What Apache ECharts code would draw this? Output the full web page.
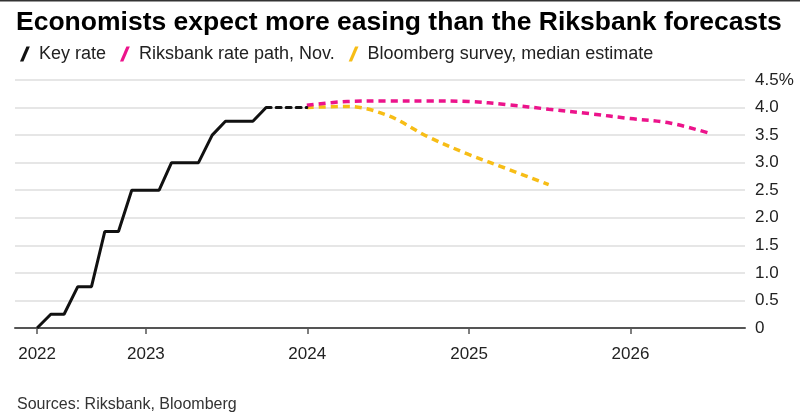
<!DOCTYPE html>
<html>
<head>
<meta charset="utf-8">
<script src="https://cdn.jsdelivr.net/npm/echarts@6/dist/echarts.min.js"></script>
<style>
html,body{margin:0;padding:0;background:#fff;}
#chart{width:800px;height:416px;}
</style>
</head>
<body>
<div id="chart"></div>
<script>
// ---- Data ----
var keyRateDates = ['2022-04-30','2022-05-31','2022-06-30','2022-07-31','2022-08-31','2022-09-30','2022-10-31','2022-11-30','2022-12-31','2023-01-31','2023-02-28','2023-03-31','2023-04-30','2023-05-31','2023-06-30','2023-07-31','2023-08-31','2023-09-30'];
var keyRateValues = [0,0.25,0.25,0.75,0.75,1.75,1.75,2.5,2.5,2.5,3.0,3.0,3.0,3.5,3.75,3.75,3.75,4.0];
var keyRateExtDates = ['2023-09-30','2023-12-31'];
var keyRateExtValues = [4.0,4.0];
var forecastDates = ['2023-12-31','2024-03-31','2024-06-30','2024-09-30','2024-12-31','2025-03-31','2025-06-30','2025-09-30','2025-12-31','2026-03-31','2026-06-30'];
var riksbankPath = [4.04,4.11,4.12,4.12,4.11,4.05,3.97,3.89,3.80,3.72,3.53];
var surveyMedian = [4.00,4.02,3.86,3.47,3.15,2.88,2.60];
var xTickDates = ['2022-04-30','2023-01-01','2024-01-01','2025-01-01','2026-01-01'];
var xRange = ['2022-03-11','2026-09-17'];
var yTicks = [0,0.5,1.0,1.5,2.0,2.5,3.0,3.5,4.0,4.5];
var seriesNames = ['Key rate','Riksbank rate path, Nov.','Bloomberg survey, median estimate'];
var titleText = 'Economists expect more easing than the Riksbank forecasts';
var sourceText = 'Sources: Riksbank, Bloomberg';

function ts(d){ return +echarts.time.parse(d); }
function zip(d, v){ var out=[]; for (var i=0;i<v.length;i++) out.push([ts(d[i]), v[i]]); return out; }

var FONT = '"Liberation Sans", Arial, sans-serif';
var BLACK = '#111111', PINK = '#ec138b', YELLOW = '#f7bd16';
var icon = 'path://M0,14 L3.2,14 L9.2,0 L6,0 Z';

var chart = echarts.init(document.getElementById('chart'), null, {renderer:'canvas'});
var xTickVals = xTickDates.map(ts);

chart.setOption({
  animation: false,
  backgroundColor: '#ffffff',
  textStyle: {fontFamily: FONT},
  graphic: [{type:'rect', left:0, top:0, shape:{width:800, height:1.5}, style:{fill:'#333'}}],
  title: [
    {text: titleText, left: 11, top: 4,
     textStyle: {fontFamily: FONT, fontSize: 26.5, fontWeight: 'bold', color: '#000'}},
    {text: sourceText, left: 12, top: 392,
     textStyle: {fontFamily: FONT, fontSize: 16, fontWeight: 'normal', color: '#333'}}
  ],
  legend: {
    left: 15, top: 40, itemWidth: 18, itemHeight: 15, itemGap: 14,
    icon: icon,
    data: seriesNames.map(function(n){ return {name:n, icon:icon}; }),
    textStyle: {fontFamily: FONT, fontSize: 18, color: '#222'}
  },
  grid: {left: 15, right: 55, top: 80, bottom: 88, containLabel: false},
  xAxis: {
    type: 'value',
    min: ts(xRange[0]), max: ts(xRange[1]),
    axisLine: {show: true, lineStyle: {color: '#555', width: 2}},
    axisTick: {show: true, length: 6, customValues: xTickVals, lineStyle: {color: '#555', width: 1.5}},
    axisLabel: {customValues: xTickVals, margin: 18, fontFamily: FONT, fontSize: 17, color: '#222',
      formatter: function(v){ return String(new Date(v).getFullYear()); }},
    splitLine: {show: false}
  },
  yAxis: {
    type: 'value', position: 'right', min: 0, max: 4.5, interval: 0.5,
    axisLine: {show: false}, axisTick: {show: false},
    splitLine: {show: true, lineStyle: {color: '#dedede', width: 1.5}},
    axisLabel: {margin: 10, fontFamily: FONT, fontSize: 17, color: '#222',
      formatter: function(v){ if (v === 0) return '0'; var s = v.toFixed(1); return v === yTicks[yTicks.length-1] ? s + '%' : s; }}
  },
  series: [
    {name: seriesNames[2], type: 'line', data: zip(forecastDates, surveyMedian), showSymbol: false, smooth: 0.35,
     itemStyle: {color: YELLOW}, lineStyle: {color: YELLOW, width: 3.5, type: [7,5]}, z: 2},
    {name: seriesNames[1], type: 'line', data: zip(forecastDates, riksbankPath), showSymbol: false, smooth: 0.35,
     itemStyle: {color: PINK}, lineStyle: {color: PINK, width: 3.5, type: [7,5]}, z: 3},
    {name: seriesNames[0], type: 'line', data: zip(keyRateDates, keyRateValues), showSymbol: false,
     itemStyle: {color: BLACK}, lineStyle: {color: BLACK, width: 3}, z: 4},
    {name: seriesNames[0], type: 'line', data: zip(keyRateExtDates, keyRateExtValues), showSymbol: false,
     itemStyle: {color: BLACK}, lineStyle: {color: BLACK, width: 3, type: [5,5], cap: 'round'}, z: 4}
  ]
});
</script>
</body>
</html>
